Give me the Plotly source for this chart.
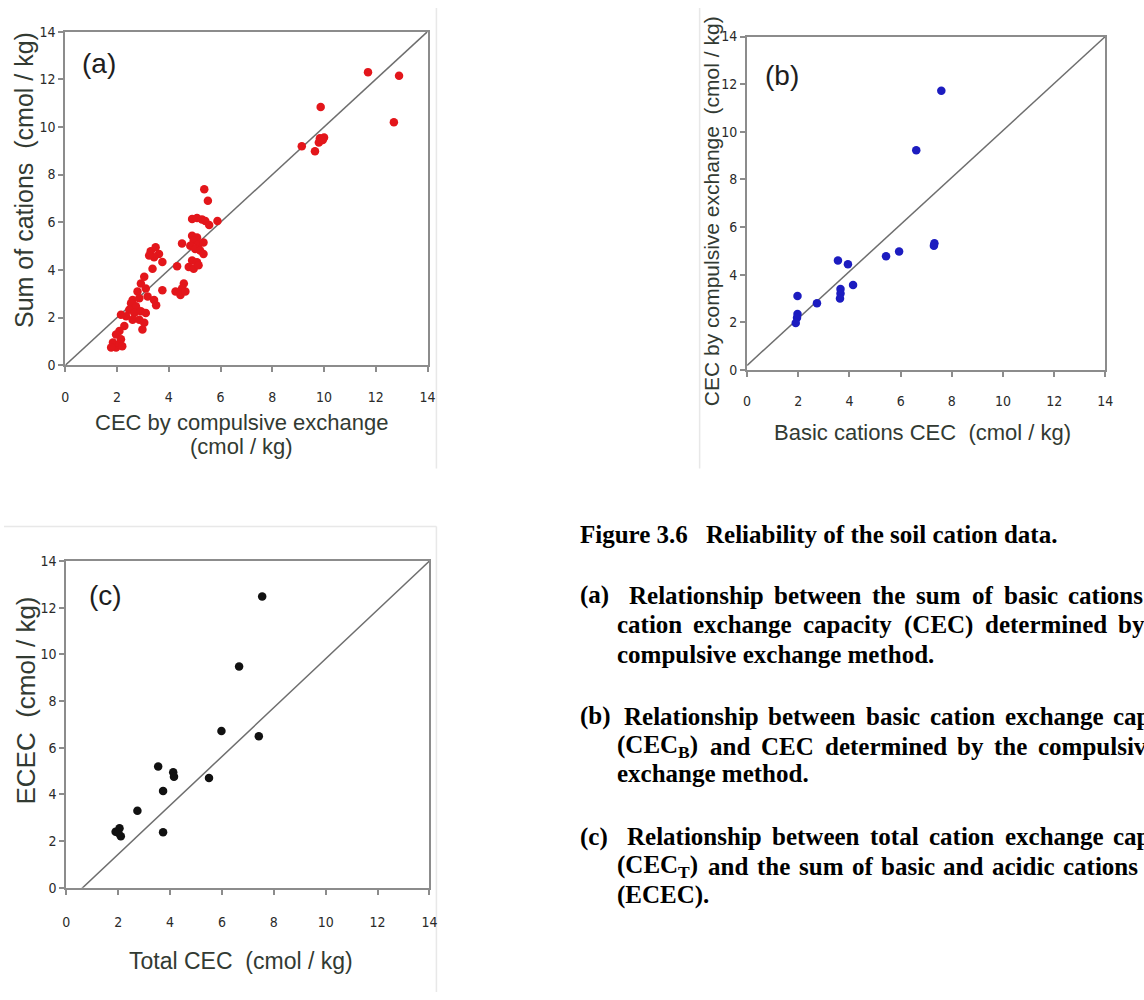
import re
import plotly.graph_objects as go

# ---------------------------------------------------------------
# Data (cmol / kg)
# ---------------------------------------------------------------
tick_values = [0, 2, 4, 6, 8, 10, 12, 14]
tick_labels = ["0", "2", "4", "6", "8", "10", "12", "14"]

# (a) CEC by compulsive exchange vs sum of basic cations
cec_compulsive_a = [
    11.70, 12.90, 12.70, 9.87, 9.14, 9.65, 9.84, 10.00, 9.80, 9.95,
    5.37, 5.51, 4.90, 5.09, 5.28, 5.41, 5.88, 5.56,
    4.90, 5.09, 4.96, 5.15, 5.34, 4.83, 5.02, 5.21, 5.34,
    4.51, 4.90, 5.09, 4.77, 4.96, 5.15, 4.32,
    4.58, 4.51, 4.26, 4.45, 4.64, 3.75,
    3.30, 3.49, 3.62, 3.43, 3.75, 3.24, 3.37,
    3.05, 2.92, 3.11, 2.79, 2.60, 2.86, 3.18, 3.43, 3.51,
    2.54, 2.73, 2.47, 2.67, 2.92, 3.11, 2.35, 2.15, 2.60, 2.86, 3.05, 2.98,
    2.28, 2.09, 1.96, 2.15, 1.84, 1.96, 1.77, 2.09, 2.20,
]
sum_cations_a = [
    12.30, 12.15, 10.20, 10.84, 9.19, 8.98, 9.52, 9.56, 9.35, 9.45,
    7.38, 6.90, 6.14, 6.18, 6.12, 6.05, 6.05, 5.88,
    5.43, 5.36, 5.22, 5.08, 5.15, 5.01, 4.88, 4.81, 4.67,
    5.11, 4.39, 4.32, 4.12, 4.05, 4.19, 4.15,
    3.43, 3.22, 3.09, 2.95, 3.09, 3.15,
    4.78, 4.95, 4.67, 4.53, 4.33, 4.60, 4.05,
    3.71, 3.43, 3.22, 3.09, 2.74, 2.81, 2.88, 2.74, 2.52,
    2.60, 2.47, 2.33, 2.19, 2.26, 2.19, 2.05, 2.12, 1.91, 1.91, 1.78, 1.50,
    1.64, 1.43, 1.29, 1.09, 0.95, 0.74, 0.74, 0.88, 0.80,
]

# (b) basic cations CEC vs CEC by compulsive exchange
basic_cec_b = [7.59, 6.61, 7.32, 7.30, 5.94, 5.43, 3.55, 3.94, 4.14,
               3.65, 3.65, 3.63, 2.73, 1.97, 1.97, 1.95, 1.90]
cec_compulsive_b = [11.72, 9.23, 5.32, 5.22, 4.98, 4.78, 4.60, 4.44, 3.57,
                    3.40, 3.22, 3.01, 2.81, 3.11, 2.35, 2.20, 1.98]

# (c) total CEC vs ECEC
total_cec_c = [7.55, 6.66, 5.98, 7.42, 3.54, 4.12, 4.15, 5.50, 3.73,
               2.74, 1.90, 2.05, 2.10, 2.00, 3.73]
ecec_c = [12.48, 9.48, 6.71, 6.49, 5.19, 4.95, 4.75, 4.70, 4.14,
          3.30, 2.40, 2.55, 2.20, 2.35, 2.38]

# Reference lines drawn in each panel
line_a_x, line_a_y = [0, 14], [0, 14]
line_b_x, line_b_y = [0, 14], [0.2, 14]
line_c_x, line_c_y = [0, 14], [-0.66, 14]

# ---------------------------------------------------------------
# Styling
# ---------------------------------------------------------------
W, H = 1144, 1000
AXIS_GREY = "#8c8c8c"
LINE_GREY = "#6e6e6e"
TITLE_COLOR = "#323a32"
TICK_FONT = dict(family="Liberation Sans Narrow, DejaVu Sans Condensed, Arial Narrow, Arial",
                 size=14, color="#2a2a2a")
SANS = "Liberation Sans, Arial, Helvetica, sans-serif"
SERIF = "Liberation Serif, Times New Roman, serif"


def px_x(x):
    return x / W


def px_y(y):
    return 1 - y / H


def axis(domain, anchor, standoff=None):
    d = dict(
        domain=domain, anchor=anchor, range=[0, 14],
        tickmode="array", tickvals=tick_values, ticktext=tick_labels,
        showline=True, linecolor=AXIS_GREY, linewidth=2, mirror=True,
        ticks="outside", ticklen=5, tickwidth=1.5, tickcolor=AXIS_GREY,
        showgrid=False, zeroline=False, tickfont=TICK_FONT, fixedrange=True,
    )
    if standoff is not None:
        d["ticklabelstandoff"] = standoff
    return d


fig = go.Figure()

# Panel (a)
fig.add_trace(go.Scatter(x=line_a_x, y=line_a_y, mode="lines",
                         line=dict(color=LINE_GREY, width=1.5),
                         xaxis="x", yaxis="y", hoverinfo="skip"))
fig.add_trace(go.Scatter(x=cec_compulsive_a, y=sum_cations_a, mode="markers",
                         marker=dict(color="#e3161b", size=8.5, line=dict(width=0)),
                         xaxis="x", yaxis="y"))

# Panel (b)
fig.add_trace(go.Scatter(x=line_b_x, y=line_b_y, mode="lines",
                         line=dict(color=LINE_GREY, width=1.5),
                         xaxis="x2", yaxis="y2", hoverinfo="skip"))
fig.add_trace(go.Scatter(x=basic_cec_b, y=cec_compulsive_b, mode="markers",
                         marker=dict(color="#1c1cc0", size=8.5, line=dict(width=0)),
                         xaxis="x2", yaxis="y2"))

# Panel (c) - the fitted line runs a little past the lower-left corner
fig.add_trace(go.Scatter(x=line_c_x, y=line_c_y, mode="lines",
                         line=dict(color=LINE_GREY, width=1.5),
                         cliponaxis=False,
                         xaxis="x3", yaxis="y3", hoverinfo="skip"))
fig.add_trace(go.Scatter(x=total_cec_c, y=ecec_c, mode="markers",
                         marker=dict(color="#111111", size=8.5, line=dict(width=0)),
                         xaxis="x3", yaxis="y3"))

# Plot-area geometry in pixels: (left, right, top, bottom, x tick-label standoff)
panels = [
    (62, 428, 24, 363, 13),
    (751, 1113, 29, 368, 12),
    (63, 430, 562, 894, 16),
]

layout_axes = {}
for idx, (l, r, t, b, so) in enumerate(panels, start=1):
    sx = "" if idx == 1 else str(idx)
    layout_axes["xaxis" + sx] = axis([px_x(l), px_x(r)], "y" + sx, so)
    layout_axes["yaxis" + sx] = axis([px_y(b), px_y(t)], "x" + sx)

# Faint outlines of the three pasted figure blocks
block_edges = [
    (437, 0, 437, 468),
    (703, 0, 703, 468),
    (0, 527, 437, 527),
    (437, 527, 437, 1000),
]
shapes = [
    dict(type="line", xref="paper", yref="paper",
         x0=px_x(x0), y0=px_y(y0), x1=px_x(x1), y1=px_y(y1),
         line=dict(color="#e8e8e8", width=1.5), layer="below")
    for x0, y0, x1, y1 in block_edges
]

annotations = []


def text(x, y, s, size, family=SANS, color=TITLE_COLOR, angle=0, xanchor="center"):
    annotations.append(dict(
        x=px_x(x), y=px_y(y), xref="paper", yref="paper", text=s, showarrow=False,
        font=dict(family=family, size=size, color=color), textangle=angle,
        xanchor=xanchor, yanchor="middle",
    ))


# Panel tags
text(96, 56, "(a)", 28, color="#1e1e1e")
text(786, 69, "(b)", 28, color="#1e1e1e")
text(103, 597, "(c)", 28, color="#1e1e1e")

# Axis titles
text(240, 421, "CEC by compulsive exchange", 22)
text(240, 446, "(cmol / kg)", 22)
text(20, 175, "Sum of cations  (cmol / kg)", 25, angle=-90)

text(928, 431, "Basic cations CEC  (cmol / kg)", 22)
text(715, 207, "CEC by compulsive exchange  (cmol / kg)", 21, angle=-90)

text(240, 968, "Total CEC  (cmol / kg)", 23)
text(22, 704, "ECEC  (cmol / kg)", 26, angle=-90)

# ---------------------------------------------------------------
# Figure caption (bold serif, justified paragraphs)
# ---------------------------------------------------------------
CAP = 25
CAP_COLOR = "#000000"
SUB_SCALE = 0.85  # allowance for subscript glyphs plus their spacing

# Times / Liberation Serif bold advance widths (1/1000 em)
SERIF_BOLD_WIDTHS = {
    " ": 250, "(": 333, ")": 333, ".": 250, "3": 500, "6": 500,
    "B": 667, "C": 722, "E": 667, "F": 611, "R": 722, "T": 667,
    "a": 500, "b": 556, "c": 444, "d": 556, "e": 444, "f": 333, "g": 500,
    "h": 556, "i": 278, "k": 556, "l": 278, "m": 833, "n": 556, "o": 500,
    "p": 556, "r": 444, "s": 389, "t": 333, "u": 556, "v": 500, "w": 722,
    "x": 500, "y": 500,
}


def word_width(word, size):
    total = 0.0
    pos = 0
    for m in re.finditer(r"<sub>(.*?)</sub>", word):
        plain = word[pos:m.start()]
        total += sum(SERIF_BOLD_WIDTHS.get(ch, 500) for ch in plain)
        total += SUB_SCALE * sum(SERIF_BOLD_WIDTHS.get(ch, 500) for ch in m.group(1))
        pos = m.end()
    total += sum(SERIF_BOLD_WIDTHS.get(ch, 500) for ch in word[pos:])
    return total * size / 1000.0


def caption_line(x, y, s):
    text(x, y, "<b>" + s + "</b>", CAP, SERIF, CAP_COLOR, xanchor="left")


def justified_line(x, y, s, extra_gap):
    """Lay a justified line out word by word with widened inter-word gaps."""
    space = SERIF_BOLD_WIDTHS[" "] * CAP / 1000.0
    cur = x
    for word in s.split(" "):
        if cur < W - 4:
            caption_line(cur, y, word)
        cur += word_width(word, CAP) + space + extra_gap


caption_line(580, 535, "Figure 3.6")
caption_line(707, 535, "Reliability of the soil cation data.")

caption_line(580, 597, "(a)")
justified_line(630, 597, "Relationship between the sum of basic cations and", 5.2)
justified_line(617, 627, "cation exchange capacity (CEC) determined by the", 6.2)
caption_line(617, 657, "compulsive exchange method.")

caption_line(580, 720, "(b)")
justified_line(625, 720, "Relationship between basic cation exchange capacity", 4.5)
justified_line(617, 750, "(CEC<sub>B</sub>) and CEC determined by the compulsive", 5.0)
caption_line(617, 778, "exchange method.")

caption_line(580, 842, "(c)")
justified_line(628, 842, "Relationship between total cation exchange capacity", 5.0)
justified_line(617, 872, "(CEC<sub>T</sub>) and the sum of basic and acidic cations", 2.7)
caption_line(617, 901, "(ECEC).")

fig.update_layout(
    width=W, height=H,
    margin=dict(l=0, r=0, t=0, b=0),
    paper_bgcolor="white", plot_bgcolor="white",
    showlegend=False,
    annotations=annotations,
    shapes=shapes,
    **layout_axes,
)

fig.write_html("out.html", config={"displayModeBar": False})
